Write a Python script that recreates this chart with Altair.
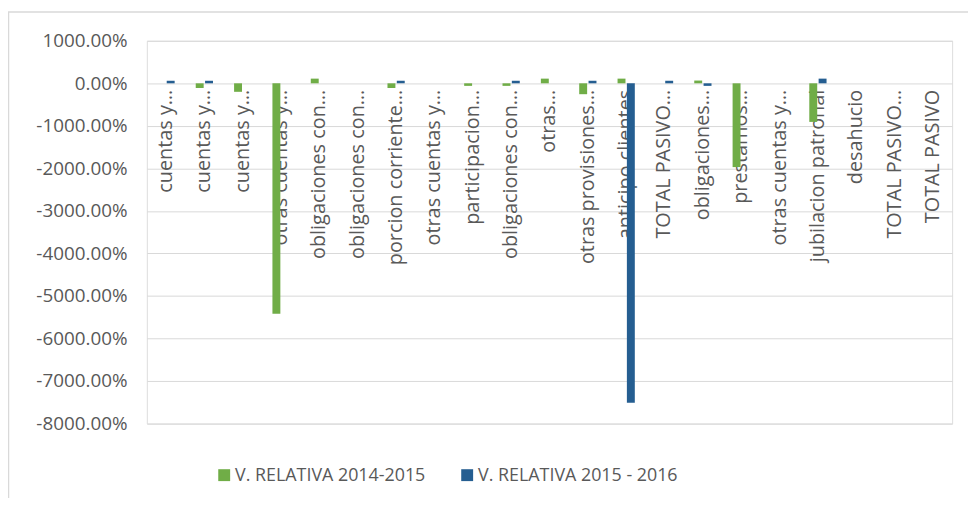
import altair as alt
import pandas as pd

categories = [
    "cuentas y…", "cuentas y… ", "cuentas y…  ", "otras cuentas y…",
    "obligaciones con…", "obligaciones con… ", "porcion corriente…",
    "otras cuentas y… ", "participacion…", "obligaciones con…  ", "otras…",
    "otras provisiones…", "anticipo clientes", "TOTAL PASIVO…", "obligaciones…",
    "prestamos…", "otras cuentas y…  ", "jubilacion patronal", "desahucio",
    "TOTAL PASIVO… ", "TOTAL PASIVO",
]
series_names = ["V. RELATIVA 2014-2015", "V. RELATIVA 2015 - 2016"]
series_colors = ["#70AD47", "#255E91"]
v_2014_2015 = [0, -110, -200, -5420, 110, 0, -110, 0, -60, -60, 110, -256, 110, 0, 65, -1970, 0, -907, 0, 0, 0]
v_2015_2016 = [60, 60, 0, 0, 0, 0, 60, 0, 0, 60, 0, 60, -7510, 60, -60, 0, 0, 110, 0, 0, 0]
y_ticks = list(range(-8000, 1001, 1000))

rows = []
for i, c in enumerate(categories):
    rows.append({"cat": c, "serie": series_names[0], "v": v_2014_2015[i]})
    rows.append({"cat": c, "serie": series_names[1], "v": v_2015_2016[i]})
df = pd.DataFrame(rows)

W, H = 812, 386
FONT = "Open Sans"
GREY = "#595959"

bars = alt.Chart(df).mark_bar().encode(
    x=alt.X("cat:N", sort=categories, title=None,
            scale=alt.Scale(paddingInner=0.55, paddingOuter=0.275),
            axis=alt.Axis(labelAngle=-90, offset=-(H - H * 1000 / 9000), domain=False,
                          ticks=False, labelPadding=6, labelFontSize=20, labelColor=GREY,
                          labelFont=FONT, grid=False, labelLimit=400)),
    xOffset=alt.XOffset("serie:N", sort=series_names, scale=alt.Scale(paddingInner=0.15)),
    y=alt.Y("v:Q", title=None, scale=alt.Scale(domain=[-8000, 1000], nice=False),
            axis=alt.Axis(values=y_ticks, domain=False, ticks=False, labelPadding=20,
                          labelFontSize=19, labelColor=GREY, labelFont=FONT,
                          gridColor="#D9D9D9", gridWidth=1,
                          labelExpr="replace(format(datum.value, '.2f'), '\u2212', '-') + '%'")),
    color=alt.Color("serie:N", sort=series_names,
                    scale=alt.Scale(domain=series_names, range=series_colors),
                    legend=None),
)

one = alt.Data(values=[{}])
legend_layers = []
for name, col, sx in zip(series_names, series_colors, [72, 317]):
    legend_layers.append(
        alt.Chart(one).mark_rect(color=col, opacity=1).encode(
            x=alt.value(sx), x2=alt.value(sx + 12), y=alt.value(432), y2=alt.value(444)))
    legend_layers.append(
        alt.Chart(one).mark_text(align="left", baseline="middle", font=FONT,
                                 fontSize=18, color=GREY).encode(
            x=alt.value(sx + 17), y=alt.value(439), text=alt.datum(name)))

border_top = alt.Chart(one).mark_rule(color="#D9D9D9", strokeWidth=1.5).encode(
    x=alt.value(-140), x2=alt.value(W + 16), y=alt.value(-29))
border_left = alt.Chart(one).mark_rule(color="#D9D9D9", strokeWidth=1.5).encode(
    x=alt.value(-139.5), y=alt.value(-29), y2=alt.value(H + 75))

chart = alt.layer(border_top, border_left, bars, *legend_layers).properties(
    width=W, height=H,
    autosize=alt.AutoSizeParams(type="none"),
    padding={"left": 140, "top": 31, "right": 16, "bottom": 75},
).configure_view(stroke=None).configure(background="white")

chart.save("out.html", embed_options={"renderer": "svg", "actions": False})
